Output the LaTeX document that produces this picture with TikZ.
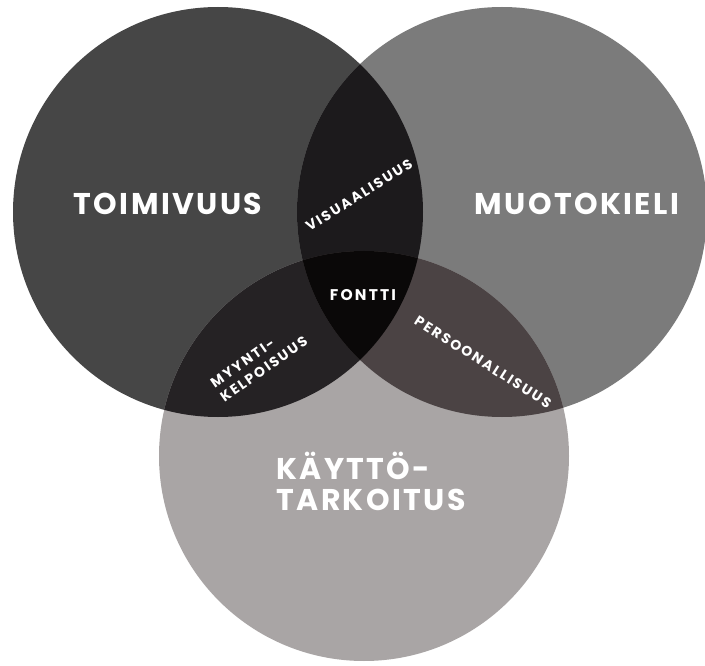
\documentclass[tikz,border=0pt]{standalone}
\usepackage{fontspec}
\setmainfont{Poppins}
\newfontfamily\bigfont{Poppins}[LetterSpace=8]
\newfontfamily\smallfont{Poppins}[LetterSpace=14]
\definecolor{cL}{HTML}{464646}
\definecolor{cR}{HTML}{7B7B7B}
\definecolor{cB}{HTML}{A9A5A5}
\definecolor{cLR}{HTML}{1C1A1C}
\definecolor{cLB}{HTML}{252224}
\definecolor{cRB}{HTML}{4B4344}
\definecolor{cLRB}{HTML}{0A0808}
\begin{document}
\begin{tikzpicture}[x=1pt,y=-1pt,
  big/.style={text=white,font=\bigfont\bfseries\fontsize{30}{31}\selectfont,align=left,inner sep=0pt},
  small/.style={text=white,font=\smallfont\bfseries\fontsize{14}{17}\selectfont,align=left,inner sep=0pt}]
\useasboundingbox[fill=white] (0,0) rectangle (705,666);
\def\rr{205}
\coordinate (L) at (218,212);
\coordinate (R) at (502,212);
\coordinate (B) at (364,456);
\fill[cL] (L) circle (\rr);
\fill[cR] (R) circle (\rr);
\fill[cB] (B) circle (\rr);
\begin{scope}
  \clip (L) circle (\rr);
  \fill[cLR] (R) circle (\rr);
  \fill[cLB] (B) circle (\rr);
\end{scope}
\begin{scope}
  \clip (R) circle (\rr);
  \fill[cRB] (B) circle (\rr);
\end{scope}
\begin{scope}
  \clip (L) circle (\rr);
  \clip (R) circle (\rr);
  \fill[cLRB] (B) circle (\rr);
\end{scope}
\node[big] (toim) at (168,204) {TOIMIVUUS};
\node[big] (muot) at (577,204) {MUOTOKIELI};
\node[big] (kayt) at (371,481) {KÄYTTÖ-\\TARKOITUS};
\node[small,font=\smallfont\bfseries\fontsize{15.5}{17}\selectfont] (font) at (363,295) {FONTTI};
\node[small,rotate=32] (visu) at (359,195) {VISUAALISUUS};
\node[small,rotate=35] (myyn) at (259,362) {MYYNTI-\\KELPOISUUS};
\node[small,rotate=-32.5] (pers) at (483,362) {PERSOONALLISUUS};
\end{tikzpicture}
\end{document}
